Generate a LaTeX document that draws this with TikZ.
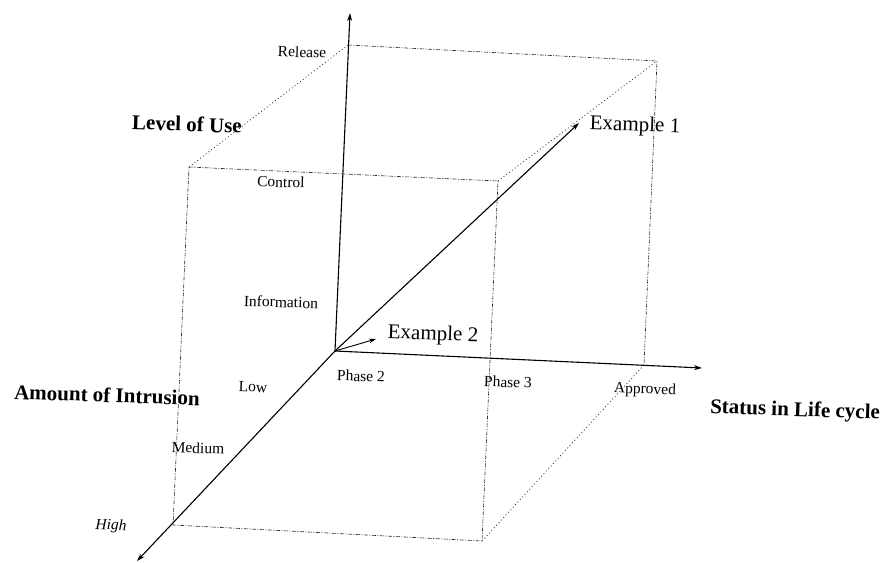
\documentclass[tikz,border=0pt]{standalone}
\usepackage{fontspec}
\setmainfont{Liberation Serif}
\usetikzlibrary{arrows.meta}
\tikzset{
  axis/.style={line width=1.1pt, -{Stealth[length=8pt,width=5pt]}},
  edgeline/.style={line width=0.6pt, black!85, dash pattern=on 4pt off 1.5pt on 1pt off 1.5pt},
  depthline/.style={line width=0.7pt, black!85, dash pattern=on 1pt off 2.5pt},
  small/.style={font=\fontsize{15.5}{15.5}\selectfont, inner sep=0pt, rotate=-2},
  big/.style={font=\fontsize{21}{21}\selectfont, inner sep=0pt, rotate=-2},
  bigbold/.style={font=\fontsize{21}{21}\selectfont\bfseries, inner sep=0pt, rotate=-2}
}
\begin{document}
\begin{tikzpicture}[x=1pt,y=-1pt]
\useasboundingbox (0,0) rectangle (882,562);
% key points
\coordinate (O) at (335,351);
\coordinate (Vtip) at (350,13);
\coordinate (Htip) at (702,368);
\coordinate (Dtip) at (137,561);
\coordinate (E1) at (579,123);
\coordinate (E2) at (376,339);
\coordinate (BTL) at (348,45);
\coordinate (BTR) at (657,61);
\coordinate (BBR) at (644,365);
\coordinate (FTL) at (189,167);
\coordinate (FTR) at (498,181);
\coordinate (FBR) at (482,541);
\coordinate (FBL) at (173,525);
% cube edges
\draw[edgeline] (FTL) -- (FTR) -- (FBR) -- (FBL) -- cycle;
\draw[edgeline] (BTL) -- (BTR) -- (BBR);
\draw[depthline] (FTL) -- (BTL);
\draw[depthline] (FTR) -- (BTR);
\draw[depthline] (FBR) -- (BBR);
% axes
\draw[axis] (O) -- (Vtip);
\draw[axis] (O) -- (Htip);
\draw[axis] (O) -- (Dtip);
\draw[axis] (O) -- (E1);
\draw[line width=0.9pt, -{Stealth[length=7pt,width=4.5pt]}] (O) -- (E2);
% labels
\node[small] (release) at (302,52) {Release};
\node[bigbold] (levelofuse) at (187,124) {Level of Use};
\node[small] (control) at (281,182) {Control};
\node[small] (information) at (281,302) {Information};
\node[small] (low) at (253,387) {Low};
\node[small] (medium) at (198,448) {Medium};
\node[small, font=\fontsize{15.5}{15.5}\selectfont\itshape] (high) at (111,526) {High};
\node[bigbold] (intrusion) at (107,395) {Amount of Intrusion};
\node[small] (phase2) at (361,376) {Phase 2};
\node[small] (phase3) at (508,382) {Phase 3};
\node[small] (approved) at (645,390) {Approved};
\node[bigbold] (status) at (795,411) {Status in Life cycle};
\node[big] (ex2) at (433,335) {Example 2};
\node[big] (ex1) at (635,126) {Example 1};
\end{tikzpicture}
\end{document}
